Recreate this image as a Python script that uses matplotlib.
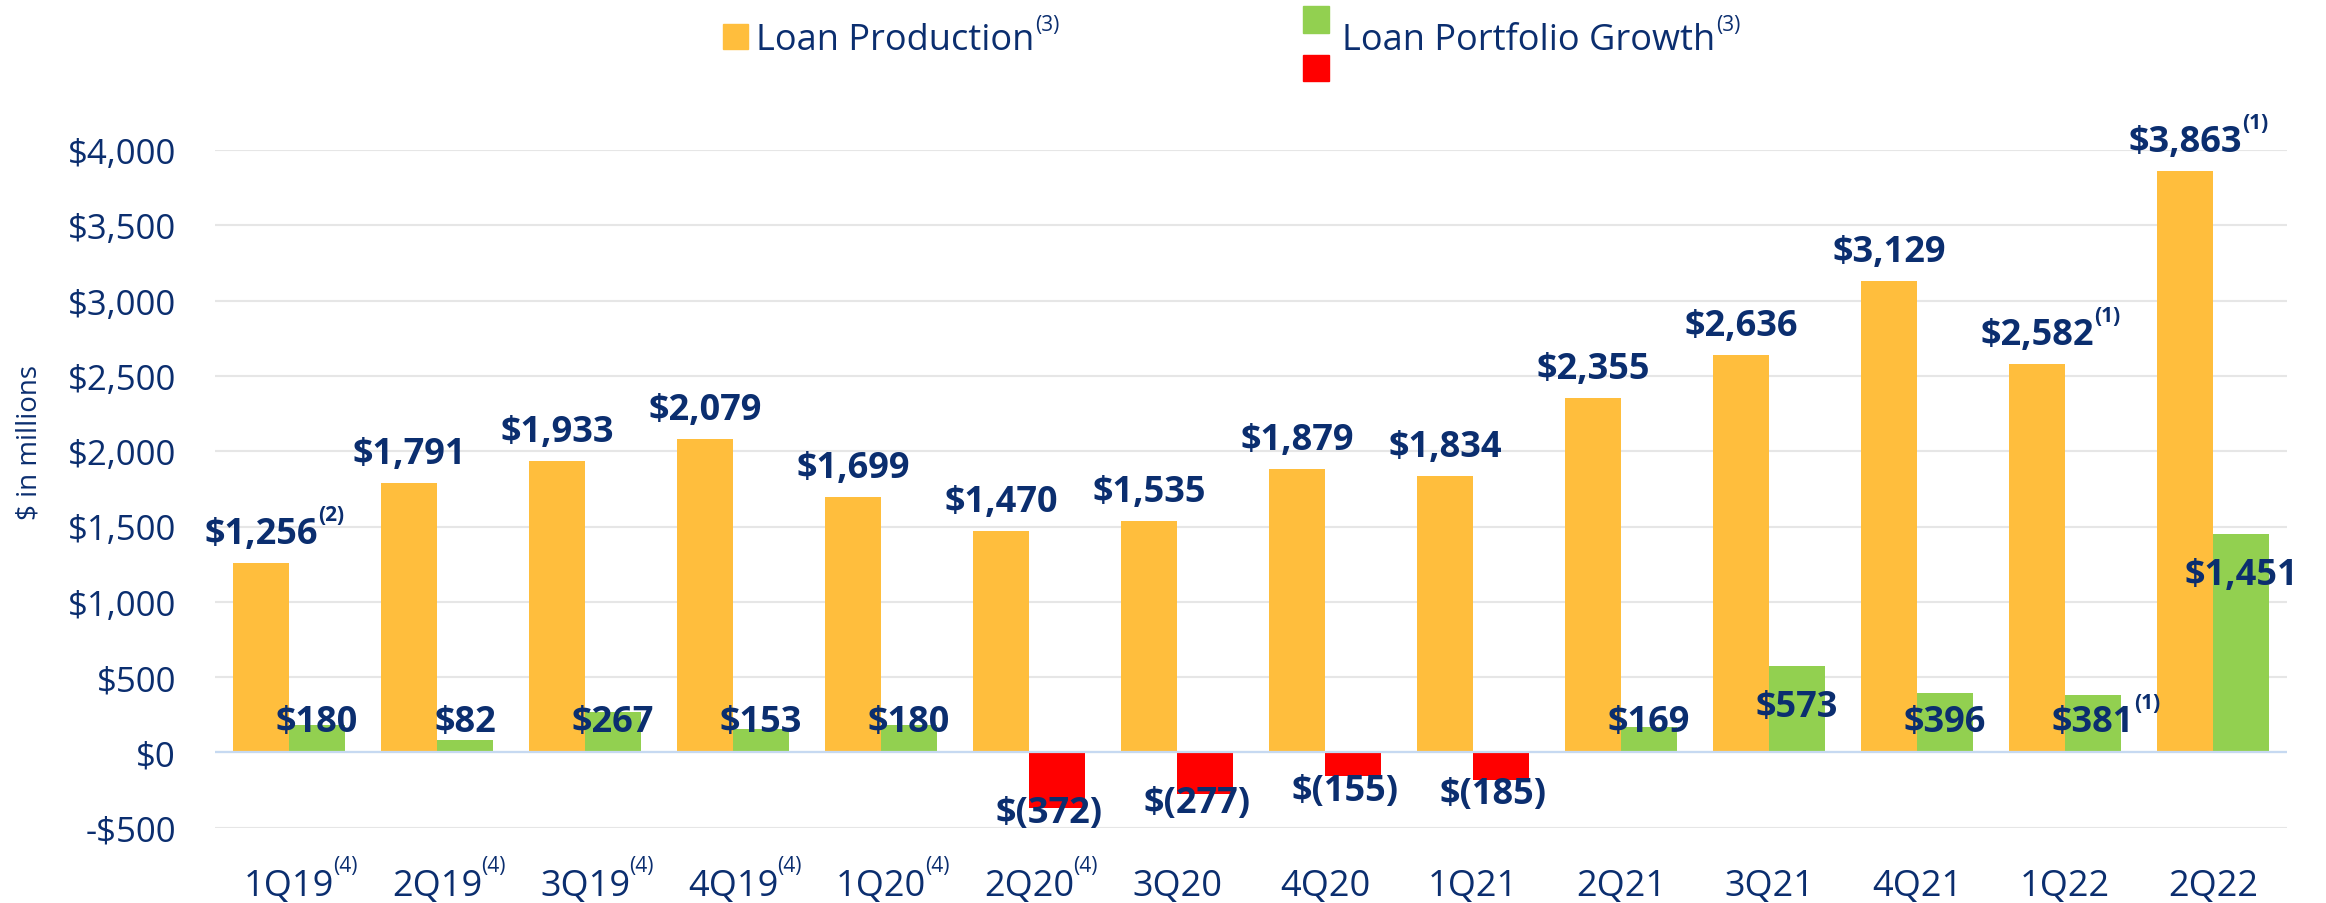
import matplotlib
matplotlib.use("Agg")
import matplotlib.pyplot as plt
from matplotlib.patches import Rectangle
import numpy as np

# Données ($ in millions)
quarters = ["1Q19", "2Q19", "3Q19", "4Q19", "1Q20", "2Q20", "3Q20",
            "4Q20", "1Q21", "2Q21", "3Q21", "4Q21", "1Q22", "2Q22"]
quarter_notes = ["(4)", "(4)", "(4)", "(4)", "(4)", "(4)", "",
                 "", "", "", "", "", "", ""]
production = [1256, 1791, 1933, 2079, 1699, 1470, 1535,
              1879, 1834, 2355, 2636, 3129, 2582, 3863]
production_notes = ["(2)", "", "", "", "", "", "",
                    "", "", "", "", "", "(1)", "(1)"]
growth = [180, 82, 267, 153, 180, -372, -277,
          -155, -185, 169, 573, 396, 381, 1451]
growth_notes = ["", "", "", "", "", "", "",
                "", "", "", "", "", "(1)", ""]
yticks = [-500, 0, 500, 1000, 1500, 2000, 2500, 3000, 3500, 4000]

NAVY = "#0B2E6F"
YELLOW = "#FFBE3D"
GREEN = "#92D050"
RED = "#FF0000"

plt.rcParams["font.family"] = ["Open Sans", "DejaVu Sans"]
plt.rcParams["text.parse_math"] = False

W, H = 2326, 904
fig = plt.figure(figsize=(W / 100, H / 100), dpi=100)
ax = fig.add_axes([215 / W, 1 - 828.7 / H, (2287 - 215) / W, (828.7 - 151) / H])

x = np.arange(len(quarters))
w = 0.378
ax.bar(x - w, production, w, align="edge", color=YELLOW, zorder=2)
couleurs = [GREEN if g >= 0 else RED for g in growth]
ax.bar(x, growth, w, align="edge", color=couleurs, zorder=2)

ax.set_xlim(-0.5, len(quarters) - 0.5)
ax.set_ylim(-500, 4000)
ax.set_yticks(yticks)
ax.set_yticklabels([("-$%s" % format(-v, ",")) if v < 0 else ("$%s" % format(v, ",")) for v in yticks])
ax.set_xticks(x)
ax.set_xticklabels(quarters)
ax.yaxis.grid(True, color="#E6E6E6", lw=1.5)
ax.set_axisbelow(True)
ax.axhline(0, color="#C6D9F1", lw=1.6, zorder=3)
for s in ax.spines.values():
    s.set_visible(False)
ax.tick_params(axis="y", length=0, labelsize=25, labelcolor=NAVY, pad=28)
ax.tick_params(axis="x", length=0, labelsize=26, labelcolor=NAVY, pad=29)

fig.text(30 / W, 1 - 443 / H, "$ in millions", rotation=90, ha="center", va="center",
         fontsize=20, color=NAVY)

# Etiquettes des barres
lab_prod = []
for i, v in enumerate(production):
    t = ax.annotate("$%s" % format(v, ","), xy=(i - w / 2, v), xytext=(0, 14.4),
                    textcoords="offset points", ha="center", va="baseline",
                    fontsize=26, fontweight="bold", color=NAVY)
    lab_prod.append(t)

lab_growth = []
for i, v in enumerate(growth):
    if v >= 0:
        txt = "$%s" % format(v, ",")
        ylab = max(v - 332, 141)
        dx = 0
    else:
        txt = "$(%s)" % format(-v, ",")
        ylab = 0.66 * v - 216
        dx = -6
    t = ax.annotate(txt, xy=(i + w / 2, ylab), xytext=(dx, 0), textcoords="offset points",
                    ha="center", va="baseline", fontsize=26, fontweight="bold", color=NAVY)
    lab_growth.append(t)

# Légende
def carre(x0, y0, x1, y1, c):
    fig.patches.append(Rectangle((x0 / W, 1 - y1 / H), (x1 - x0) / W, (y1 - y0) / H,
                                 transform=fig.transFigure, color=c))

carre(723, 25, 748, 50, YELLOW)
carre(1303, 7, 1329, 34, GREEN)
carre(1303, 56, 1329, 82, RED)
leg1 = fig.text(756 / W, 1 - 50 / H, "Loan Production", ha="left", va="baseline",
                fontsize=26, color=NAVY)
leg2 = fig.text(1342 / W, 1 - 50 / H, "Loan Portfolio Growth", ha="left", va="baseline",
                fontsize=26, color=NAVY)

# Exposants
fig.canvas.draw()
r = fig.canvas.get_renderer()

def exposant(t, note, size, rise, gap=0):
    if not note:
        return
    bb = t.get_window_extent(r)
    _, _, d = r.get_text_width_height_descent("lp", t.get_fontproperties(), ismath=False)
    base = bb.y0 + d
    fig.text((bb.x1 + gap) / W, (base + rise) / H, note, ha="left", va="baseline",
             fontsize=size, fontweight=t.get_fontweight(), color=NAVY)

for t, n in zip(ax.get_xticklabels(), quarter_notes):
    exposant(t, n, 15, 24, -1)
for t, n in zip(lab_prod, production_notes):
    exposant(t, n, 15, 23, 0)
for t, n in zip(lab_growth, growth_notes):
    exposant(t, n, 15, 23, 0)
exposant(leg1, "(3)", 15, 19, 1)
exposant(leg2, "(3)", 15, 19, 1)

fig.savefig("out.png", dpi=100)
